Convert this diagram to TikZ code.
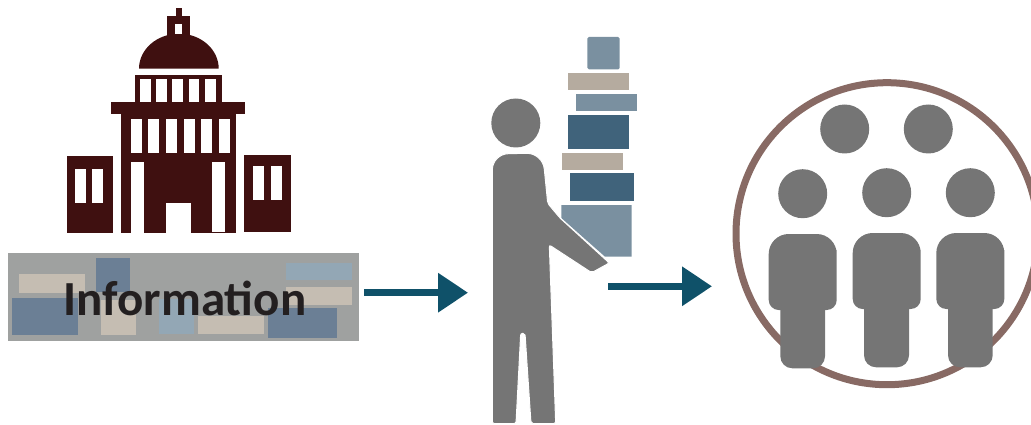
\documentclass[tikz,border=0pt]{standalone}
\usepackage{fontspec}
\setmainfont{Carlito}
\usetikzlibrary{arrows.meta,positioning}
\definecolor{wall}{HTML}{3F1010}
\definecolor{panelgrey}{HTML}{9FA1A0}
\definecolor{paleblue}{HTML}{93A7B5}
\definecolor{slateblue}{HTML}{6B7F95}
\definecolor{sand}{HTML}{C5BDB2}
\definecolor{booklight}{HTML}{7A90A0}
\definecolor{bookdark}{HTML}{40637B}
\definecolor{booksand}{HTML}{B5AB9F}
\definecolor{figure}{HTML}{757575}
\definecolor{ring}{HTML}{886A64}
\definecolor{flow}{HTML}{0F5169}
\definecolor{ink}{HTML}{231F20}
\tikzset{
  box/.style={inner sep=0pt,outer sep=0pt,minimum width=#1},
  head/.style={circle,fill=figure,inner sep=0pt,outer sep=0pt,minimum size=49pt},
  mover/.style={draw=flow,line width=6.7pt,-{Triangle[length=30pt,width=38pt]}}
}

\begin{document}
\begin{tikzpicture}[x=1pt,y=-1pt]
\clip (0,0) rectangle (1031,425);
% building
\fill[wall] (175.7,8) rectangle (182,16);
\fill[wall] (167.3,15.7) rectangle (190,36);
\fill[wall] (139,68.7) .. controls (139,49.4) and (156.9,33.7) .. (179,33.7) .. controls (201,33.7) and (218.7,49.4) .. (218.7,68.7) -- cycle;
\fill[wall] (135,75) rectangle (221.7,103);
\fill[wall] (111,102.3) rectangle (245.3,113.7);
\fill[wall] (121,113) rectangle (235.7,232.7);
\fill[wall] (67.3,156) rectangle (113.3,233.3);
\fill[wall] (244,155.3) rectangle (291.3,232.3);
\fill[white] (175.3,23.7) rectangle (182,33.7);
\fill[white] (140.3,79.3) rectangle (151.3,102.3);
\fill[white] (156.3,79.3) rectangle (167.3,102.3);
\fill[white] (172.3,79.3) rectangle (183.3,102.3);
\fill[white] (188.7,79.3) rectangle (199.3,102.3);
\fill[white] (204.7,79.3) rectangle (215.7,102.3);
\fill[white] (131,118.7) rectangle (142,153.3);
\fill[white] (148.3,118.7) rectangle (159.3,153.3);
\fill[white] (166,118.7) rectangle (177,153.3);
\fill[white] (183.7,118.7) rectangle (194.7,153.3);
\fill[white] (201,118.7) rectangle (212,153.3);
\fill[white] (218.7,118.7) rectangle (229.7,153.3);
\fill[white] (131,162) rectangle (144,232.7);
\fill[white] (212,162) rectangle (225,231.7);
\fill[white] (166,203) rectangle (191,232.7);
\fill[white] (74.7,169) rectangle (85.7,203.3);
\fill[white] (92,169) rectangle (103,203.3);
\fill[white] (252.7,166) rectangle (263.7,200.3);
\fill[white] (271.3,166) rectangle (282.3,200.3);
% information panel
\node[box=350.7pt,minimum height=88pt,fill=panelgrey] (panel) at (183.65,297.3) {};
\node[box=66pt,minimum height=18.4pt,fill=sand] (slipa) at (52,283.5) {};
\node[box=34pt,minimum height=33.7pt,fill=slateblue] (slipb) at (113,274.85) {};
\node[box=66pt,minimum height=36.7pt,fill=slateblue] (slipc) at (45,316.35) {};
\node[box=34.7pt,minimum height=34.7pt,fill=sand] (slipd) at (118.35,317.35) {};
\node[box=34.4pt,minimum height=34.4pt,fill=paleblue] (slipe) at (176.5,316.5) {};
\node[box=66pt,minimum height=17.7pt,fill=sand] (slipf) at (231,324.85) {};
\node[box=69pt,minimum height=29.7pt,fill=slateblue] (slipg) at (302.5,323.15) {};
\node[box=66pt,minimum height=17.3pt,fill=paleblue] (sliph) at (319,271.35) {};
\node[box=66pt,minimum height=18.3pt,fill=sand] (slipi) at (319,295.85) {};
\node[inner sep=0pt,text=ink,font=\fontsize{49}{52}\selectfont\bfseries] (info) at (185,298) {Information};
% person carrying the stack
\node[box=32.4pt,minimum height=32.3pt,fill=booklight,rounded corners=1.5pt] (booka) at (603.5,53.15) {};
\node[box=61pt,minimum height=17pt,fill=booksand] (bookb) at (598.5,81.5) {};
\node[box=61pt,minimum height=17pt,fill=booklight] (bookc) at (606.5,102.5) {};
\node[box=61pt,minimum height=34pt,fill=bookdark] (bookd) at (598.5,132) {};
\node[box=61pt,minimum height=17pt,fill=booksand] (booke) at (592.5,161.5) {};
\node[box=64pt,minimum height=28pt,fill=bookdark] (bookf) at (602,187) {};
\fill[booklight] (561.3,205) -- (631.7,205) -- (631.7,256.7) -- (605,256.7) -- (561.3,218) -- cycle;
\node[head] (carrier) at (515.8,123) {};
\fill[figure,draw=white,line width=1pt,rounded corners=3pt] (492.3,420) [rounded corners=16pt] -- (492.3,154) -- (542.7,153) [rounded corners=2pt] -- (547.7,203.3) -- (560,218) -- (609.3,263) -- (591.7,272.7) -- (549.3,245) -- (555.7,423.5) -- (531,423.5) -- (525,333.3) -- (520.7,333.3) -- (516,423.5) -- (492.3,423.5) -- cycle;
% audience
\node[circle,draw=ring,line width=7pt,inner sep=0pt,outer sep=0pt,minimum size=302pt] (crowd) at (887,233.7) {};
\node[head] (heada) at (844.7,129) {};
\node[head] (headb) at (928.3,129) {};
\node[head] (headc) at (802.7,193.7) {};
\node[head] (headd) at (886.7,192.7) {};
\node[head] (heade) at (970.3,192.7) {};
\fill[figure] (768.7,270) [rounded corners=20pt] -- (768.7,234) -- (836.7,234) -- (836.7,270) [rounded corners=10pt] -- (836.7,310) -- (768.7,310) -- cycle;
\fill[figure,rounded corners=12pt] (780.3,295) rectangle (825,368.3);
\fill[figure] (852.7,270) [rounded corners=20pt] -- (852.7,233) -- (920.7,233) -- (920.7,270) [rounded corners=10pt] -- (920.7,309) -- (852.7,309) -- cycle;
\fill[figure,rounded corners=12pt] (864,295) rectangle (909,367.3);
\fill[figure] (936.3,270) [rounded corners=20pt] -- (936.3,233) -- (1004.3,233) -- (1004.3,270) [rounded corners=10pt] -- (1004.3,309) -- (936.3,309) -- cycle;
\fill[figure,rounded corners=12pt] (948,295) rectangle (992.7,367.3);
% arrows
\coordinate (starta) at (364,292.7);
\coordinate (enda) at (468,292.7);
\coordinate (startb) at (608,286.3);
\coordinate (endb) at (712,286.3);
\draw[mover] (starta) -- (enda);
\draw[mover] (startb) -- (endb);
\end{tikzpicture}
\end{document}
